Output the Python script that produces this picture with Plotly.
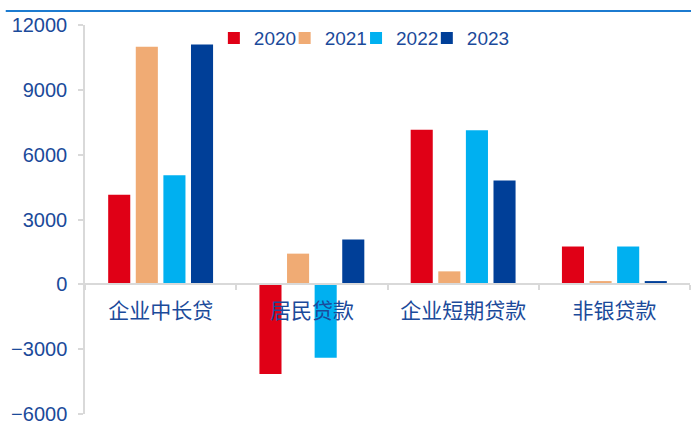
import plotly.graph_objects as go

categories = ["企业中长贷", "居民贷款", "企业短期贷款", "非银贷款"]
years = ["2020", "2021", "2022", "2023"]
v2020 = [4150, -4150, 7150, 1750]
v2021 = [11000, 1420, 600, 150]
v2022 = [5050, -3400, 7130, 1750]
v2023 = [11100, 2070, 4800, 150]
colors = ["#E00016", "#F0AB74", "#00B0F0", "#003F98"]

series = [v2020, v2021, v2022, v2023]
text_color = "#1B4A9A"
axis_gray = "#D9D9D9"
legend_ids = ["legend", "legend2", "legend3", "legend4"]
legend_x = [0.213, 0.330, 0.448, 0.565]

fig = go.Figure()
for name, vals, col, lg in zip(years, series, colors, legend_ids):
    fig.add_trace(go.Bar(x=categories, y=vals, name=name, marker_color=col,
                         marker_line_width=0, legend=lg))

legend_common = dict(orientation="h", y=1.015, xanchor="left", yanchor="top",
                     font=dict(size=19, color=text_color), bgcolor="rgba(0,0,0,0)",
                     itemwidth=30)
fig.update_layout(
    width=691, height=426,
    margin=dict(l=85, r=1, t=25, b=9),
    paper_bgcolor="white", plot_bgcolor="white",
    barmode="group", bargap=0.27, bargroupgap=0.2,
    font=dict(family="Liberation Sans, Arial, sans-serif", color=text_color),
    showlegend=True,
    **{lg: dict(x=lx, **legend_common) for lg, lx in zip(legend_ids, legend_x)}
)
fig.update_xaxes(
    type="category", anchor="free", position=1/3,
    showline=True, linecolor=axis_gray, linewidth=1.5,
    ticks="outside", tickson="boundaries", ticklen=5, tickcolor=axis_gray, tickwidth=1.5,
    tickfont=dict(family="Noto Sans CJK SC", size=21, color=text_color),
    ticklabelstandoff=8, showgrid=False, zeroline=False,
)
fig.update_yaxes(
    range=[-6001, 12001], tickvals=[-6000, -3000, 0, 3000, 6000, 9000, 12000],
    tickformat="d", ticklabeloverflow="allow",
    showline=True, linecolor=axis_gray, linewidth=1.5,
    ticks="outside", ticklen=5, tickcolor=axis_gray, tickwidth=1.5,
    tickfont=dict(size=20, color=text_color), ticklabelstandoff=7,
    showgrid=False, zeroline=False,
)
fig.add_shape(type="line", xref="paper", yref="paper", x0=-0.131, x1=1.01,
              y0=1.0 + 14/392, y1=1.0 + 14/392,
              line=dict(color="#1C7BD0", width=2))

fig.write_html("out.html")
